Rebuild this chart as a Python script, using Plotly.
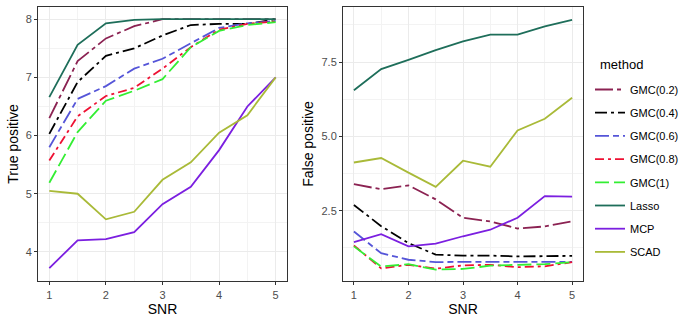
import plotly.graph_objects as go

snr = [1, 1.5, 2, 2.5, 3, 3.5, 4, 4.5, 5]
methods = ["GMC(0.2)", "GMC(0.4)", "GMC(0.6)", "GMC(0.8)", "GMC(1)", "Lasso", "MCP", "SCAD"]

tp_gmc02 = [6.30, 7.28, 7.67, 7.88, 8.00, 8.00, 8.00, 8.00, 8.00]
tp_gmc04 = [6.03, 6.92, 7.37, 7.50, 7.72, 7.90, 7.92, 7.92, 8.00]
tp_gmc06 = [5.80, 6.63, 6.85, 7.15, 7.32, 7.58, 7.85, 7.93, 7.97]
tp_gmc08 = [5.57, 6.33, 6.68, 6.82, 7.15, 7.52, 7.82, 7.92, 7.96]
tp_gmc1 = [5.19, 6.06, 6.60, 6.77, 6.97, 7.52, 7.80, 7.90, 7.95]
tp_lasso = [6.66, 7.56, 7.93, 7.99, 8.00, 8.00, 8.00, 8.00, 8.00]
tp_mcp = [3.72, 4.20, 4.22, 4.34, 4.82, 5.12, 5.75, 6.50, 7.00]
tp_scad = [5.05, 5.00, 4.56, 4.69, 5.24, 5.54, 6.05, 6.35, 7.00]

fp_gmc02 = [3.39, 3.22, 3.35, 2.88, 2.26, 2.14, 1.90, 1.97, 2.14]
fp_gmc04 = [2.69, 1.98, 1.41, 1.02, 0.99, 0.99, 0.96, 0.96, 0.98]
fp_gmc06 = [1.80, 1.07, 0.85, 0.77, 0.78, 0.78, 0.76, 0.76, 0.78]
fp_gmc08 = [1.33, 0.56, 0.68, 0.55, 0.66, 0.68, 0.60, 0.63, 0.77]
fp_gmc1 = [1.30, 0.62, 0.70, 0.52, 0.54, 0.65, 0.68, 0.70, 0.77]
fp_lasso = [6.55, 7.26, 7.57, 7.90, 8.19, 8.42, 8.42, 8.70, 8.92]
fp_mcp = [1.44, 1.71, 1.30, 1.39, 1.64, 1.86, 2.26, 2.99, 2.97]
fp_scad = [4.12, 4.27, 3.78, 3.30, 4.18, 3.98, 5.20, 5.59, 6.30]

tp = [tp_gmc02, tp_gmc04, tp_gmc06, tp_gmc08, tp_gmc1, tp_lasso, tp_mcp, tp_scad]
fp = [fp_gmc02, fp_gmc04, fp_gmc06, fp_gmc08, fp_gmc1, fp_lasso, fp_mcp, fp_scad]

colors = ["#8B2252", "#000000", "#5555D8", "#EE1133", "#33EE33", "#1E6E5A", "#7B1FE0", "#A9BA38"]
dashes = ["18px,4px,4px,4px", "12px,4px,3px,4px", "14px,4px,6px,4px",
          "9px,4px,3px,4px", "14px,5px", "solid", "solid", "solid"]

fig = go.Figure()
for i, m in enumerate(methods):
    fig.add_trace(go.Scatter(x=snr, y=tp[i], mode="lines", name=m, legendgroup=m,
                             line=dict(color=colors[i], width=1.8, dash=dashes[i]),
                             xaxis="x", yaxis="y", showlegend=True))
    fig.add_trace(go.Scatter(x=snr, y=fp[i], mode="lines", name=m, legendgroup=m,
                             line=dict(color=colors[i], width=1.8, dash=dashes[i]),
                             xaxis="x2", yaxis="y2", showlegend=False))

W, H = 688, 323
FONT = "Liberation Sans, Arial"
axis_common = dict(showline=True, mirror=True, linecolor="#333333", linewidth=1,
                   ticks="outside", ticklen=3, tickcolor="#333333",
                   showgrid=True, gridcolor="#EBEBEB", gridwidth=1.1, zeroline=False,
                   automargin=False,
                   tickfont=dict(size=11, color="#4D4D4D", family=FONT),
                   title_font=dict(size=14, color="#000000", family=FONT))
minor_common = dict(showgrid=True, gridcolor="#F3F3F3", gridwidth=0.6)
PH = H - 49  # plot area height (t=7, b=42)

fig.update_layout(
    width=W, height=H,
    margin=dict(l=0, r=0, t=7, b=42),
    plot_bgcolor="white", paper_bgcolor="white",
    font=dict(family=FONT, color="#000000"),
    xaxis=dict(domain=[38 / W, 287 / W], range=[0.8, 5.2], tickvals=[1, 2, 3, 4, 5],
               title=dict(text="SNR", standoff=0), anchor="y", ticklabelstandoff=1,
               minor=dict(tickvals=[1.5, 2.5, 3.5, 4.5], ticks="", **minor_common), **axis_common),
    yaxis=dict(range=[3.5, 8.21], tickvals=[4, 5, 6, 7, 8], anchor="x",
               title=dict(text="True positive", standoff=3),
               minor=dict(tickvals=[4.5, 5.5, 6.5, 7.5], ticks="", **minor_common), **axis_common),
    xaxis2=dict(domain=[343 / W, 583 / W], range=[0.8, 5.2], tickvals=[1, 2, 3, 4, 5],
                title=dict(text="SNR", standoff=0), anchor="y2", ticklabelstandoff=1,
                minor=dict(tickvals=[1.5, 2.5, 3.5, 4.5], ticks="", **minor_common), **axis_common),
    yaxis2=dict(range=[0.135, 9.35], tickvals=[2.5, 5.0, 7.5], ticktext=["2.5", "5.0", "7.5"],
                anchor="x2", title=dict(text="False positive", standoff=4),
                minor=dict(tickvals=[1.25, 3.75, 6.25, 8.75], ticks="", **minor_common), **axis_common),
    legend=dict(x=590 / W, xanchor="left", y=1 - (171 - 7) / PH, yanchor="middle",
                font=dict(size=11, color="#000000", family=FONT), tracegroupgap=4.2,
                itemwidth=30, bgcolor="rgba(0,0,0,0)"),
    annotations=[dict(text="method", x=598 / W, y=1 - (64 - 7) / PH, xref="paper", yref="paper",
                      xanchor="left", yanchor="middle", showarrow=False,
                      font=dict(size=13, color="#000000", family=FONT))],
)

fig.write_html("out.html", config={"displayModeBar": False},
               post_script="document.body.style.margin='0';")
